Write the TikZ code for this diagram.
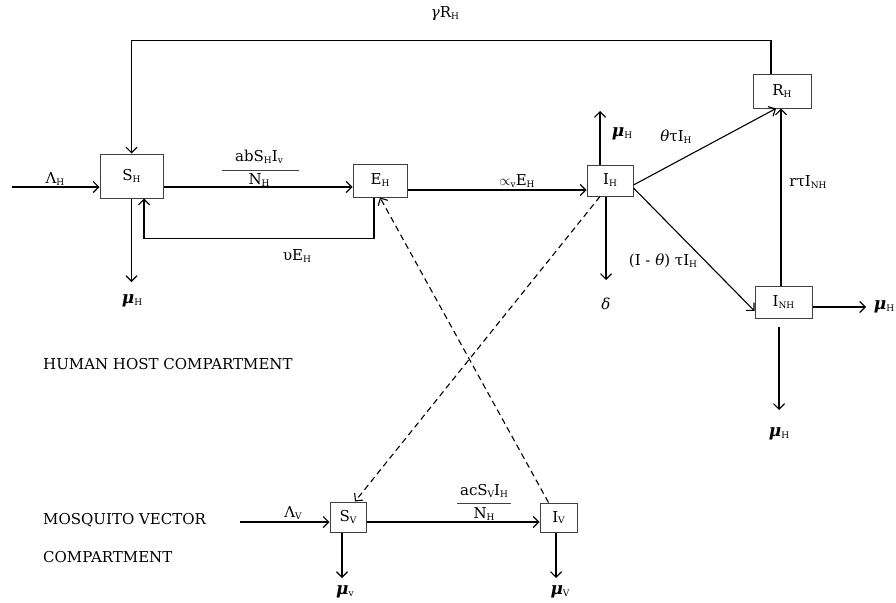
\documentclass[tikz,border=0pt]{standalone}
\usepackage{fontspec}
\setmainfont{DejaVu Serif}
\usetikzlibrary{arrows.meta}
\newcommand{\lsub}[1]{\raisebox{-0.25ex}{\fontsize{9}{10}\selectfont #1}}
\newcommand{\gmu}{{\fontsize{17}{18}\selectfont\bfseries\itshape μ}}
\begin{document}
\begin{tikzpicture}[x=1pt,y=-1pt,
  every node/.style={font=\fontsize{15}{17}\selectfont, inner sep=0pt},
  comp/.style={draw=black!75, line width=1pt},
  flow/.style={line width=1.1pt, -{Straight Barb[length=5.5pt,width=11pt]}},
  dash6/.style={dash pattern=on 6pt off 4pt},
  plain/.style={line width=1pt}]
\useasboundingbox (0,0) rectangle (896,602);
% boxes
\node[comp, minimum width=63pt, minimum height=44pt] (SH) at (131.5,176) {S\lsub{H}};
\node[comp, minimum width=54pt, minimum height=33pt] (EH) at (380,180.5) {E\lsub{H}};
\node[comp, minimum width=46pt, minimum height=31pt] (IH) at (610,180.5) {I\lsub{H}};
\node[comp, minimum width=58pt, minimum height=34pt] (RH) at (782,91) {R\lsub{H}};
\node[comp, minimum width=57pt, minimum height=32pt] (INH) at (783.5,302) {I\lsub{NH}};
\node[comp, minimum width=36pt, minimum height=30pt] (SV) at (348,517) {S\lsub{V}};
\node[comp, minimum width=37pt, minimum height=29pt] (IV) at (558.5,517.5) {I\lsub{V}};
% free ends
\coordinate (lamH) at (12,187);
\coordinate (muSH) at (131.5,282);
\coordinate (muIH) at (600,111);
\coordinate (dIH) at (606,280);
\coordinate (muINHr) at (866,307);
\coordinate (muINHd) at (779,410);
\coordinate (lamV) at (240,522);
\coordinate (muSV) at (342,578);
\coordinate (muIV) at (556,578);
% human connectors
\draw[flow] (lamH) -- (SH.west |- lamH);
\draw[flow] ([xshift=-11pt]RH.north) -- ++(0,-33) -| (SH.north);
\draw[flow] (SH.east |- 0,187) -- (EH.west |- 0,187);
\draw[flow] ([xshift=-6pt]EH.south) -- ++(0,41) -| ([xshift=12.5pt]SH.south);
\draw[flow] (SH.south) -- (muSH);
\draw[flow] (EH.east |- 0,190) -- (IH.west |- 0,190);
\draw[flow] (IH.north -| muIH) -- (muIH);
\draw[flow] (IH.south -| dIH) -- (dIH);
\draw[flow] (IH.east |- 0,185) -- ([xshift=-6pt]RH.south);
\draw[flow] (IH.east |- 0,188) -- ([yshift=-9pt]INH.west);
\draw[flow] (INH.north -| 781,0) -- (RH.south -| 781,0);
\draw[flow] (INH.east |- muINHr) -- (muINHr);
\draw[flow] ([yshift=-8pt]INH.south -| muINHd) -- (muINHd);
% vector connectors
\draw[flow] (lamV) -- (SV.west |- lamV);
\draw[flow] (SV.east |- 0,522) -- (IV.west |- 0,522);
\draw[flow] (SV.south -| muSV) -- (muSV);
\draw[flow] (IV.south -| muIV) -- (muIV);
\draw[flow, dash6] ([xshift=-10pt]IV.north) -- (EH.south);
\draw[flow, dash6] ([xshift=-10pt]IH.south) -- ([xshift=7pt]SV.north);
% fraction bars
\coordinate (fb1a) at (222,170); \coordinate (fb1b) at (299,170);
\draw[plain, black!75] (fb1a) -- (fb1b);
\coordinate (fb2a) at (457,503); \coordinate (fb2b) at (511,503);
\draw[plain, black!75] (fb2a) -- (fb2b);
% labels
\node (gR) at (445,14) {{\itshape γ}R\lsub{H}};
\node (lH) at (55,179) {Λ\lsub{H}};
\node (f1n) at (259,157) {abS\lsub{H}I\lsub{v}};
\node (f1d) at (259,180) {N\lsub{H}};
\node (uE) at (297,256) {υE\lsub{H}};
\node (aE) at (517,181) {$\propto$\lsub{v}E\lsub{H}};
\node (m1) at (132,301) {\gmu\lsub{H}};
\node (m2) at (622,134) {\gmu\lsub{H}};
\node (dl) at (606,304) {{\itshape δ}};
\node (tt) at (676,137) {{\itshape θ}τI\lsub{H}};
\node (ot) at (663,261) {(I - {\itshape θ}) τI\lsub{H}};
\node (rt) at (808,182) {rτI\lsub{NH}};
\node (m3) at (884,307) {\gmu\lsub{H}};
\node (m4) at (779,434) {\gmu\lsub{H}};
\node[anchor=west] (hh) at (43,364) {HUMAN HOST COMPARTMENT};
\node[anchor=west] (mv) at (43,520) {MOSQUITO VECTOR};
\node[anchor=west] (cp) at (43,557) {COMPARTMENT};
\node (lV) at (293,513) {Λ\lsub{V}};
\node (f2n) at (484,491) {acS\lsub{V}I\lsub{H}};
\node (f2d) at (484,514) {N\lsub{H}};
\node (m5) at (345,592) {\gmu\lsub{v}};
\node (m6) at (560,592) {\gmu\lsub{V}};
\end{tikzpicture}
\end{document}
